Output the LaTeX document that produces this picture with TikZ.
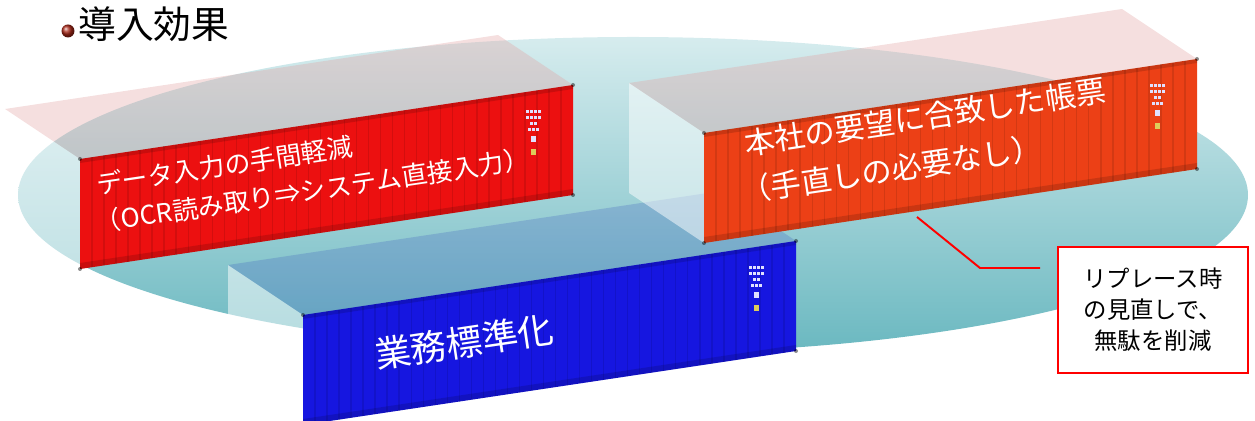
\documentclass[tikz,border=0pt]{standalone}
\usepackage{fontspec}
\setmainfont{Noto Sans CJK JP}
\usepackage{xcolor}
\usepackage{tikz}
\usetikzlibrary{calc,positioning}
\definecolor{boxred}{RGB}{236,16,16}
\definecolor{boxorange}{RGB}{236,64,22}
\definecolor{boxblue}{RGB}{22,22,224}
\definecolor{tealtop}{RGB}{214,236,238}
\definecolor{tealbottom}{RGB}{106,184,192}
\definecolor{bulletred}{RGB}{170,40,24}
\definecolor{badgeyellow}{RGB}{222,204,90}

\newcommand{\cargobox}[4]{%
  \coordinate (#1-tl) at (#2);
  \coordinate (#1-tr) at ($(#1-tl)+(493,-74)$);
  \coordinate (#1-br) at ($(#1-tr)+(0,110)$);
  \coordinate (#1-bl) at ($(#1-tl)+(0,110)$);
  \path[endface] (#1-tl) -- ++(-75,-50) -- ++(0,110) -- (#1-bl) -- cycle;
  \path[#4] (#1-tl) -- ++(-75,-50) -- ($(#1-tr)+(-75,-50)$) -- (#1-tr) -- cycle;
  \path[fill=#3] (#1-tl) -- (#1-tr) -- (#1-br) -- (#1-bl) -- cycle;
  \foreach \i in {1,...,40}
    \path[rib] ($(#1-tl)!\i/41!(#1-tr)$) -- ($(#1-bl)!\i/41!(#1-br)$);
  \path[railband] (#1-tl) -- (#1-tr) -- ($(#1-tr)+(0,4)$) -- ($(#1-tl)+(0,4)$) -- cycle;
  \path[railband] ($(#1-bl)+(0,-6)$) -- ($(#1-br)+(0,-6)$) -- (#1-br) -- (#1-bl) -- cycle;
  \foreach \c in {tl,tr,br,bl}
    \path[casting] (#1-\c) circle (2);
  \foreach \dx in {-47,-43,-39,-35} {
    \path[badgedot] ($(#1-tr)+(\dx,25)$) rectangle ++(2.5,3);
    \path[badgedot] ($(#1-tr)+(\dx,31)$) rectangle ++(3,3.5);
  }
  \foreach \dx in {-43,-39}
    \path[badgedot] ($(#1-tr)+(\dx,37)$) rectangle ++(2.5,3);
  \foreach \dx in {-45,-41,-37}
    \path[badgedot] ($(#1-tr)+(\dx,43)$) rectangle ++(3,3);
  \path[badgedot] ($(#1-tr)+(-42,51)$) rectangle ++(4.5,6);
  \path[fill=badgeyellow] ($(#1-tr)+(-42,64)$) rectangle ++(4.5,6);
}

\begin{document}
\begin{tikzpicture}[
    x=0.02cm, y=-0.02cm,
    endface/.style={fill=white, fill opacity=0.5},
    pinktop/.style={fill={rgb,255:red,226;green,164;blue,164}, fill opacity=0.35},
    bluetop/.style={fill={rgb,255:red,60;green,90;blue,190}, fill opacity=0.25},
    rib/.style={draw=black, draw opacity=0.1, line width=0.8pt},
    railband/.style={fill=black, fill opacity=0.14},
    casting/.style={fill=black, fill opacity=0.45},
    badgedot/.style={fill=white!88!blue},
    bulletdot/.style={circle, minimum size=0.26cm, inner sep=0, shading=ball, ball color=bulletred},
    titletext/.style={inner sep=0, anchor=base west, font=\fontsize{21.5}{24}\selectfont},
    boxlabel/.style={text=white, rotate=8.5, inner sep=0, anchor=base west, align=left},
    calloutbox/.style={draw=red, line width=1.4pt, fill=white, align=center,
        minimum width=3.8cm, minimum height=2.52cm, inner sep=0,
        font=\fontsize{13.3}{17.6}\selectfont},
    calloutline/.style={draw=red, line width=1.1pt},
]
\useasboundingbox (0,0) rectangle (1255,421);

% base disc
\shade[top color=tealtop, bottom color=tealbottom] (633,195) ellipse [x radius=615, y radius=158];

% title
\node[bulletdot] (bullet) at (68,31) {};
\node[titletext] (title) at (78,39) {導入効果};

% containers
\cargobox{redbox}{80,159}{boxred}{pinktop}
\node[boxlabel, font=\fontsize{14.7}{21.5}\selectfont] (redtext) at (103.6,231.6)
    {データ入力の手間軽減\\\kern-4pt（OCR読み取り⇒システム直接入力）};

\cargobox{bluebox}{303,315}{boxblue}{bluetop}
\node[boxlabel, font=\fontsize{20.5}{24}\selectfont] (bluetext) at (377,369) {業務標準化};

\cargobox{orangebox}{704,133}{boxorange}{pinktop}
\node[boxlabel, font=\fontsize{17.3}{26.6}\selectfont] (orangetext) at (753,201.5)
    {本社の要望に合致した帳票\\\kern-6pt（手直しの必要なし）};

% callout
\node[calloutbox] (callout) at (1153,310) {リプレース時\\の見直しで、\\無駄を削減};
\coordinate (calloutTip) at (917,217);
\coordinate (calloutBend) at (980,268);
\coordinate (calloutEnd) at (1040,268);
\draw[calloutline] (calloutTip) -- (calloutBend) -- (calloutEnd);

\end{tikzpicture}
\end{document}
